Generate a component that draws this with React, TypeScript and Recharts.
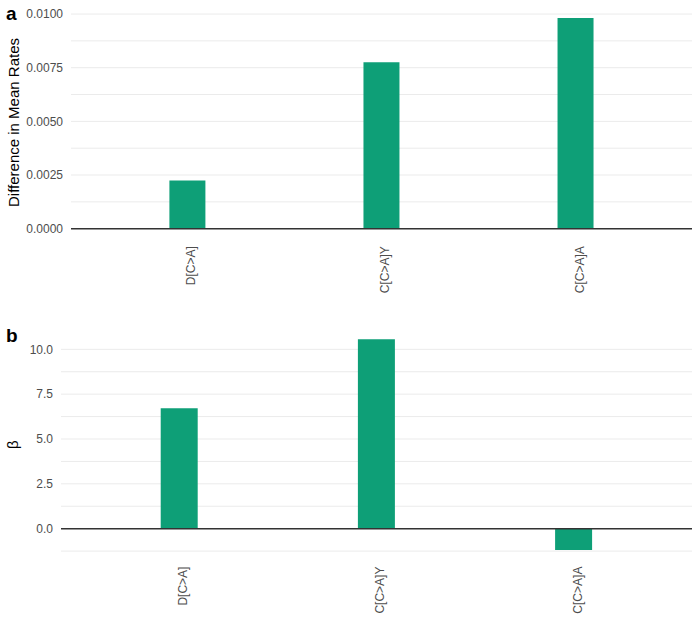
import React from 'react';
import { BarChart, Bar, XAxis, YAxis, CartesianGrid, ReferenceLine } from 'recharts';

const categories = ['D[C>A]', 'C[C>A]Y', 'C[C>A]A'];
const meanRateDiff = [0.00224, 0.00775, 0.00981];
const betaValues = [6.71, 10.56, -1.19];
const ticksA = [0, 0.00125, 0.0025, 0.00375, 0.005, 0.00625, 0.0075, 0.00875, 0.01];
const majorA = [0, 0.0025, 0.005, 0.0075, 0.01];
const ticksB = [-1.25, 0, 1.25, 2.5, 3.75, 5, 6.25, 7.5, 8.75, 10];
const majorB = [0, 2.5, 5, 7.5, 10];
const domainA = [-0.00049, 0.0103];
const domainB = [-1.78, 11.15];

const dataA = categories.map((c, i) => ({ name: c, value: meanRateDiff[i] }));
const dataB = categories.map((c, i) => ({ name: c, value: betaValues[i] }));

const FONT = '"Liberation Sans", Arial, sans-serif';
const BAR = '#0E9F77';
const TICK = '#4D4D4D';

const isMajor = (list: number[], v: number) => list.some((m) => Math.abs(m - v) < 1e-9);

const XTick = (props: any) => {
  const { x, y, payload } = props;
  const tx = x + 4;
  return (
    <text
      x={tx}
      y={y}
      transform={`rotate(-90 ${tx} ${y})`}
      textAnchor="end"
      dominantBaseline="central"
      fontSize={12}
      fill={TICK}
      fontFamily={FONT}
    >
      {payload.value}
    </text>
  );
};

const makeTitle = (text: string, cy: number) => () => (
  <text
    x={18.5}
    y={cy}
    transform={`rotate(-90 18.5 ${cy})`}
    textAnchor="middle"
    fontSize={15}
    fill="#000"
    fontFamily={FONT}
  >
    {text}
  </text>
);

export default function App() {
  return (
    <div style={{ position: 'absolute', left: 0, top: 0, width: 700, height: 628, background: '#fff' }}>
      <div style={{ position: 'absolute', left: 0, top: 0 }}>
        <BarChart width={700} height={300} data={dataA} margin={{ top: 7.6, right: 8, bottom: 10.8, left: 0 }}>
          <CartesianGrid vertical={false} horizontalValues={ticksA} stroke="#EBEBEB" strokeWidth={1} />
          <XAxis
            dataKey="name"
            type="category"
            height={50}
            padding={{ left: 19.4, right: 19.4 }}
            axisLine={false}
            tickLine={false}
            tickSize={0}
            tickMargin={7}
            interval={0}
            tick={<XTick />}
          />
          <YAxis
            type="number"
            width={71}
            domain={domainA}
            allowDataOverflow
            ticks={ticksA}
            interval={0}
            axisLine={false}
            tickLine={false}
            tickSize={0}
            tickMargin={8}
            tick={{ fill: TICK, fontSize: 12, fontFamily: FONT }}
            tickFormatter={(v: number) => (isMajor(majorA, v) ? v.toFixed(4) : '')}
            label={{ content: makeTitle('Difference in Mean Rates', 122.5) }}
          />
          <Bar dataKey="value" fill={BAR} barSize={36} isAnimationActive={false} />
          <ReferenceLine y={0} stroke="#333333" strokeWidth={1.6} />
        </BarChart>
      </div>
      <div style={{ position: 'absolute', left: 0, top: 300 }}>
        <BarChart width={700} height={328} data={dataB} margin={{ top: 28.7, right: 8, bottom: 17.4, left: 0 }}>
          <CartesianGrid vertical={false} horizontalValues={ticksB} stroke="#EBEBEB" strokeWidth={1} />
          <XAxis
            dataKey="name"
            type="category"
            height={50}
            padding={{ left: 19.7, right: 19.7 }}
            axisLine={false}
            tickLine={false}
            tickSize={0}
            tickMargin={6}
            interval={0}
            tick={<XTick />}
          />
          <YAxis
            type="number"
            width={61}
            domain={domainB}
            allowDataOverflow
            ticks={ticksB}
            interval={0}
            axisLine={false}
            tickLine={false}
            tickSize={0}
            tickMargin={8}
            tick={{ fill: TICK, fontSize: 12, fontFamily: FONT }}
            tickFormatter={(v: number) => (isMajor(majorB, v) ? v.toFixed(1) : '')}
            label={{ content: makeTitle('β', 144.6) }}
          />
          <Bar dataKey="value" fill={BAR} barSize={37} isAnimationActive={false} />
          <ReferenceLine y={0} stroke="#333333" strokeWidth={1.6} />
        </BarChart>
      </div>
      <svg width={700} height={628} style={{ position: 'absolute', left: 0, top: 0, pointerEvents: 'none' }}>
        <text x={6} y={20} fontSize={19} fontWeight="bold" fontFamily={FONT} fill="#000">a</text>
        <text x={6} y={342} fontSize={19} fontWeight="bold" fontFamily={FONT} fill="#000">b</text>
      </svg>
    </div>
  );
}
